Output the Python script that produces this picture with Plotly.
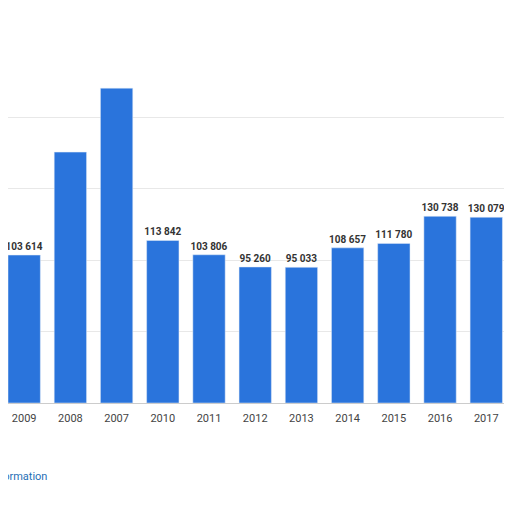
import plotly.graph_objects as go

years = ["2009", "2008", "2007", "2010", "2011", "2012", "2013", "2014", "2015", "2016", "2017"]
values = [103614, 175700, 220500, 113842, 103806, 95260, 95033, 108657, 111780, 130738, 130079]
labels = ["103 614", "", "", "113 842", "103 806", "95 260", "95 033", "108 657", "111 780", "130 738", "130 079"]

fig = go.Figure()
fig.add_trace(go.Bar(
    x=years, y=values, text=labels, textposition="outside", cliponaxis=False,
    constraintext="none",
    marker_color="#2a74dc", width=0.7,
    textfont=dict(family="Roboto", size=10, color="#333333", weight="bold"),
))
fig.update_layout(
    width=512, height=512,
    margin=dict(l=0, r=0, t=38, b=117),
    plot_bgcolor="white", paper_bgcolor="white",
    showlegend=False, bargap=0.3,
    font=dict(family="Roboto", size=11, color="#444444"),
)
fig.update_xaxes(type="category", range=[-0.35, 10.73], showline=True, linecolor="#cccccc",
                 ticks="", ticklabelstandoff=5, tickfont=dict(size=11, color="#444444"))
fig.update_yaxes(range=[0, 250000], dtick=50000, showgrid=True, gridcolor="#e8e8e8",
                 showticklabels=False, zeroline=False)
fig.add_annotation(text="Additional Information", xref="paper", yref="paper", x=0.08, y=-0.23,
                   xanchor="right", showarrow=False, font=dict(size=11, color="#1f6fb5"))
fig.add_annotation(text="©", xref="paper", yref="paper", x=0.985, y=-0.13,
                   xanchor="center", showarrow=False, font=dict(size=11, color="#1f6fb5"))
fig.write_html("out.html")
